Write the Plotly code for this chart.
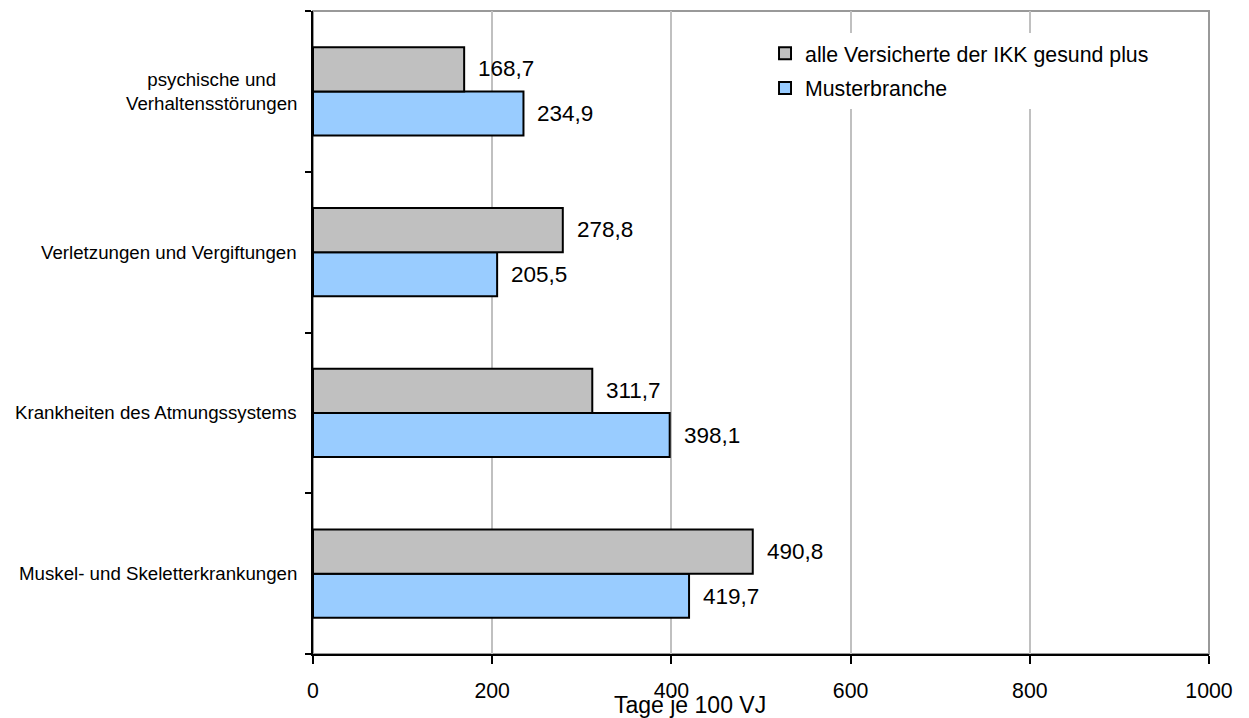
import plotly.graph_objects as go

categories = ["Muskel- und Skeletterkrankungen", "Krankheiten des Atmungssystems",
              "Verletzungen und Vergiftungen", "psychische und<br>Verhaltensstörungen"]
alle_vals = [490.8, 311.7, 278.8, 168.7]
muster_vals = [419.7, 398.1, 205.5, 234.9]
series_names = ["alle Versicherte der IKK gesund plus", "Musterbranche"]
x_ticks = [0, 200, 400, 600, 800, 1000]

FONT = "Liberation Sans, Arial, sans-serif"
BIG = 21.3
VAL = 22.5
CAT = 18.7

def fmt(v):
    return f"{v:.1f}".replace(".", ",")

fig = go.Figure()
fig.add_trace(go.Bar(
    y=categories, x=muster_vals, orientation="h", name=series_names[1],
    marker=dict(color="#99CCFF", line=dict(color="black", width=2)),
    legendrank=2, legendgroup="b",
))
fig.add_trace(go.Bar(
    y=categories, x=alle_vals, orientation="h", name=series_names[0],
    marker=dict(color="#C0C0C0", line=dict(color="black", width=2)),
    legendrank=1, legendgroup="a",
))

annotations = []
for i, c in enumerate(categories):
    annotations.append(dict(x=alle_vals[i], y=i + 0.14, xref="x", yref="y",
                            text=fmt(alle_vals[i]), showarrow=False, xanchor="left",
                            xshift=12, font=dict(size=VAL, color="black", family=FONT)))
    annotations.append(dict(x=muster_vals[i], y=i - 0.14, xref="x", yref="y",
                            text=fmt(muster_vals[i]), showarrow=False, xanchor="left",
                            xshift=12, font=dict(size=VAL, color="black", family=FONT)))
    annotations.append(dict(x=0, y=i, xref="paper", yref="y", text=c, showarrow=False,
                            xanchor="right", yanchor="middle", align="center", xshift=-14,
                            font=dict(size=CAT, color="black", family=FONT)))
annotations.append(dict(x=0.421, y=0, xref="paper", yref="paper", yshift=-51,
                        text="Tage je 100 VJ", showarrow=False, xanchor="center",
                        yanchor="middle", font=dict(size=23, color="black", family=FONT)))

fig.update_layout(
    width=1249, height=718,
    margin=dict(l=313, r=40, t=11, b=64),
    paper_bgcolor="white", plot_bgcolor="white",
    barmode="group", bargap=0.45, bargroupgap=0,
    font=dict(family=FONT, size=14, color="black"),
    separators=",.",
    legend=dict(x=0.5045, y=0.966, xanchor="left", yanchor="top", bgcolor="white",
                font=dict(size=BIG, family=FONT, color="black"), tracegroupgap=4,
                itemwidth=30),
    annotations=annotations,
    shapes=[dict(type="rect", xref="paper", yref="paper", x0=0, y0=0, x1=1, y1=1,
                 line=dict(color="#999999", width=2), layer="below")],
    xaxis=dict(range=[0, 1000], tickvals=x_ticks, showgrid=True, gridcolor="#C0C0C0",
               gridwidth=2, showline=True, linecolor="black", linewidth=2,
               ticks="outside", ticklen=8, tickwidth=2, tickcolor="black",
               tickfont=dict(size=BIG, family=FONT), ticklabelstandoff=8,
               zeroline=False),
    yaxis=dict(showline=True, linecolor="black", linewidth=2, ticks="outside",
               tickson="boundaries", ticklen=6, tickwidth=2, tickcolor="black",
               showticklabels=False, showgrid=False),
)

fig.write_html("out.html", post_script="document.body.style.margin='0px';",
               config={"displayModeBar": False})
